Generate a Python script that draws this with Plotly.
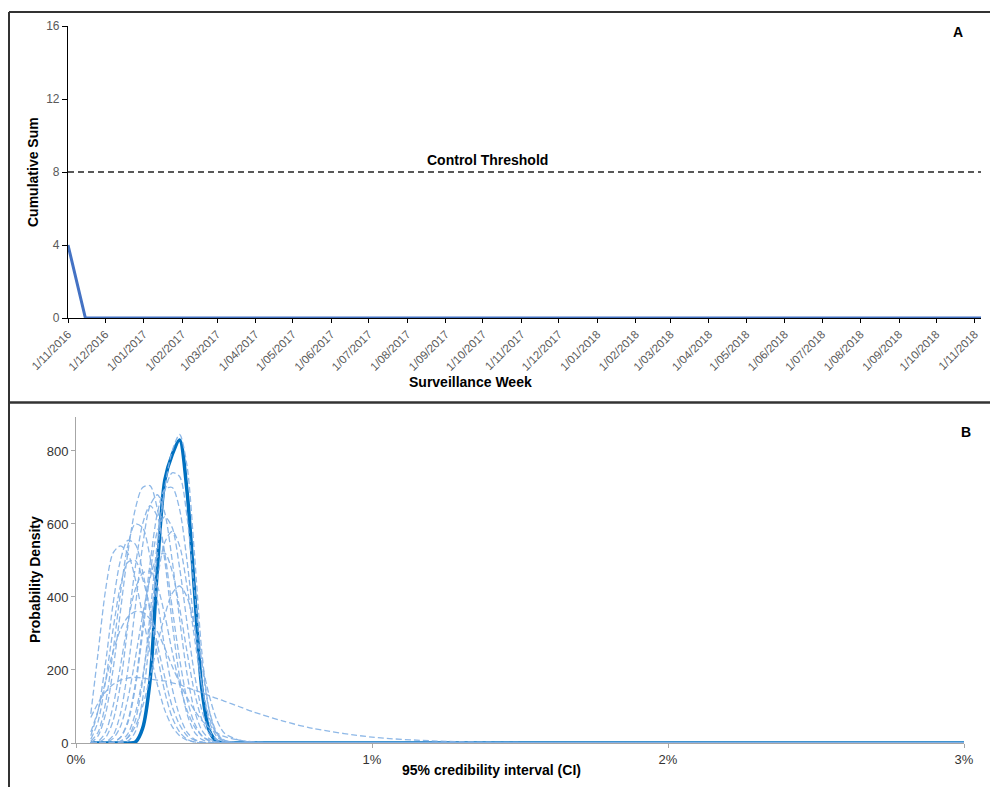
import plotly.graph_objects as go
import pandas as pd

W, H = 990, 787

# ---------------- Panel A data ----------------
week_start = "2016-11-01"
n_weeks = 106
weeks = [d.strftime("%Y-%m-%d") for d in pd.date_range(week_start, periods=n_weeks, freq="7D")]
cusum = [
    4, 2, 0, 0, 0, 0, 0, 0, 0, 0, 0, 0, 0, 0, 0, 0, 0, 0, 0, 0,
    0, 0, 0, 0, 0, 0, 0, 0, 0, 0, 0, 0, 0, 0, 0, 0, 0, 0, 0, 0,
    0, 0, 0, 0, 0, 0, 0, 0, 0, 0, 0, 0, 0, 0, 0, 0, 0, 0, 0, 0,
    0, 0, 0, 0, 0, 0, 0, 0, 0, 0, 0, 0, 0, 0, 0, 0, 0, 0, 0, 0,
    0, 0, 0, 0, 0, 0, 0, 0, 0, 0, 0, 0, 0, 0, 0, 0, 0, 0, 0, 0,
    0, 0, 0, 0, 0, 0,
]
control_threshold = 8
month_ticks = [d.strftime("%Y-%m-%d") for d in pd.date_range("2016-11-01", "2018-11-01", freq="MS")]
month_labels = [d.strftime("1/%m/%Y") for d in pd.date_range("2016-11-01", "2018-11-01", freq="MS")]

# ---------------- Panel B data ----------------
ci_pct = [0.05, 0.075, 0.1, 0.125, 0.15, 0.175, 0.2, 0.225, 0.25, 0.275, 0.3, 0.325,
          0.35, 0.375, 0.4, 0.425, 0.45, 0.475, 0.5, 0.55, 0.6, 0.7, 0.8, 1.0, 1.2, 1.4, 3.0]

current_density = [0, 0, 0, 0, 0, 0, 2, 40, 170, 480, 720, 790, 830, 690, 420, 150, 35, 5, 0,
                   0, 0, 0, 0, 0, 0, 0, 0]

previous_densities = [
    [80, 250, 420, 520, 540, 520, 450, 350, 250, 160, 90, 45, 20, 8, 3, 1, 0, 0, 0, 0, 0, 0, 0, 0, 0, 0, 0],
    [0, 20, 80, 200, 360, 520, 640, 700, 705, 640, 500, 330, 180, 80, 30, 10, 3, 0, 0, 0, 0, 0, 0, 0, 0, 0, 0],
    [0, 0, 0, 0, 0, 5, 30, 120, 300, 520, 700, 800, 845, 760, 520, 250, 90, 25, 5, 0, 0, 0, 0, 0, 0, 0, 0],
    [0, 0, 0, 0, 2, 15, 60, 170, 350, 550, 690, 740, 730, 620, 420, 220, 90, 30, 8, 0, 0, 0, 0, 0, 0, 0, 0],
    [0, 0, 0, 2, 15, 60, 160, 320, 490, 630, 695, 700, 640, 500, 320, 160, 60, 18, 5, 0, 0, 0, 0, 0, 0, 0, 0],
    [0, 0, 3, 20, 80, 200, 370, 540, 650, 680, 630, 500, 340, 190, 90, 35, 12, 3, 0, 0, 0, 0, 0, 0, 0, 0, 0],
    [0, 2, 15, 60, 160, 320, 480, 600, 650, 620, 520, 370, 230, 120, 55, 20, 6, 2, 0, 0, 0, 0, 0, 0, 0, 0, 0],
    [5, 30, 110, 250, 410, 540, 600, 590, 510, 390, 260, 150, 75, 30, 10, 3, 0, 0, 0, 0, 0, 0, 0, 0, 0, 0, 0],
    [20, 90, 220, 380, 500, 555, 545, 470, 360, 240, 140, 70, 30, 10, 3, 0, 0, 0, 0, 0, 0, 0, 0, 0, 0, 0, 0],
    [10, 60, 170, 310, 430, 495, 500, 450, 370, 270, 180, 100, 50, 20, 8, 2, 0, 0, 0, 0, 0, 0, 0, 0, 0, 0, 0],
    [0, 5, 30, 100, 210, 330, 420, 465, 470, 430, 350, 250, 160, 90, 45, 20, 8, 3, 1, 0, 0, 0, 0, 0, 0, 0, 0],
    [30, 90, 170, 250, 310, 345, 360, 358, 340, 305, 260, 210, 165, 125, 90, 62, 42, 28, 18, 8, 3, 0, 0, 0, 0, 0, 0],
    [70, 110, 140, 160, 172, 178, 180, 178, 175, 172, 170, 165, 160, 152, 145, 138, 130, 122, 115, 100, 85, 60, 40, 16, 6, 2, 0],
    [0, 0, 0, 3, 15, 55, 150, 300, 460, 580, 620, 590, 480, 330, 190, 90, 35, 10, 3, 0, 0, 0, 0, 0, 0, 0, 0],
    [0, 0, 2, 12, 45, 120, 230, 350, 450, 510, 520, 470, 370, 250, 140, 65, 25, 8, 2, 0, 0, 0, 0, 0, 0, 0, 0],
    [0, 0, 0, 0, 3, 15, 45, 100, 180, 270, 350, 410, 430, 400, 320, 220, 130, 65, 28, 8, 2, 0, 0, 0, 0, 0, 0],
    [0, 0, 0, 0, 5, 25, 80, 180, 320, 450, 550, 580, 540, 430, 290, 160, 70, 25, 8, 0, 0, 0, 0, 0, 0, 0, 0],
]
ci_frac = [v / 100 for v in ci_pct]


def px_x(p):
    return p / W


def px_y(p):
    return 1 - p / H


fig = go.Figure()

# Panel B traces: current curve underneath, previous (dashed) curves on top
fig.add_trace(go.Scatter(
    x=ci_frac, y=current_density, mode="lines",
    line=dict(color="#0070C0", width=3.5, shape="spline", smoothing=0.8),
    xaxis="x2", yaxis="y2", showlegend=False, hoverinfo="skip"))
for dens in previous_densities:
    fig.add_trace(go.Scatter(
        x=ci_frac, y=dens, mode="lines",
        line=dict(color="rgba(130,176,228,0.9)", width=1.3, dash="6px,3px",
                  shape="spline", smoothing=0.8),
        xaxis="x2", yaxis="y2", showlegend=False, hoverinfo="skip"))

# Panel A traces
fig.add_trace(go.Scatter(
    x=weeks, y=cusum, mode="lines", line=dict(color="#4472C4", width=3),
    xaxis="x", yaxis="y", showlegend=False, hoverinfo="skip"))
fig.add_trace(go.Scatter(
    x=[weeks[0], weeks[-1]], y=[control_threshold, control_threshold], mode="lines",
    line=dict(color="#222222", width=1.6, dash="6px,4px"),
    xaxis="x", yaxis="y", showlegend=False, hoverinfo="skip"))

FONT = "Liberation Sans, Arial, sans-serif"
tick_font = dict(family=FONT, size=11.5, color="#595959")
tick_font_y = dict(family=FONT, size=12, color="#595959")
tick_font_b = dict(family=FONT, size=13, color="#333333")
title_font = dict(family=FONT, size=14, color="#000000")

fig.update_layout(
    width=W, height=H, autosize=False,
    margin=dict(l=0, r=0, t=0, b=0, pad=0),
    paper_bgcolor="white", plot_bgcolor="white",
    xaxis=dict(
        domain=[px_x(68), px_x(981)],
        range=["2016-11-01", "2018-11-06"],
        type="date", automargin=False,
        tickvals=month_ticks, ticktext=month_labels, tickangle=-45,
        tickfont=tick_font,
        showline=True, linecolor="#000000", linewidth=1.2,
        ticks="outside", ticklen=4, tickcolor="#000000",
        showgrid=False, zeroline=False, anchor="y",
    ),
    yaxis=dict(
        domain=[px_y(318), px_y(26)],
        range=[0, 16], tickvals=[0, 4, 8, 12, 16], automargin=False,
        tickfont=tick_font_y,
        showline=True, linecolor="#000000", linewidth=1.2,
        ticks="outside", ticklen=5, tickcolor="#000000",
        showgrid=False, zeroline=False, anchor="x",
    ),
    xaxis2=dict(
        domain=[px_x(76), px_x(964)],
        range=[0, 0.03], tickvals=[0, 0.01, 0.02, 0.03], ticktext=["0%", "1%", "2%", "3%"],
        automargin=False,
        tickfont=tick_font_b,
        showline=True, linecolor="#A6A6A6", linewidth=1,
        ticks="outside", ticklen=4, tickcolor="#A6A6A6",
        showgrid=False, zeroline=False, anchor="y2",
    ),
    yaxis2=dict(
        domain=[px_y(743), px_y(417)],
        range=[0, 893], tickvals=[0, 200, 400, 600, 800], automargin=False,
        tickfont=tick_font_b,
        showline=True, linecolor="#A6A6A6", linewidth=1,
        ticks="outside", ticklen=4, tickcolor="#A6A6A6",
        showgrid=False, zeroline=False, anchor="x2",
    ),
    shapes=[
        dict(type="line", xref="paper", yref="paper", x0=px_x(9), x1=1, y0=px_y(12), y1=px_y(12),
             line=dict(color="#333333", width=2)),
        dict(type="line", xref="paper", yref="paper", x0=px_x(9), x1=1, y0=px_y(402.5), y1=px_y(402.5),
             line=dict(color="#333333", width=2.5)),
        dict(type="line", xref="paper", yref="paper", x0=px_x(9), x1=px_x(9), y0=px_y(12), y1=0,
             line=dict(color="#333333", width=2)),
    ],
    annotations=[
        dict(text="<b>Control Threshold</b>", xref="paper", yref="paper",
             x=px_x(487), y=px_y(160), showarrow=False, font=title_font,
             xanchor="center", yanchor="middle"),
        dict(text="<b>A</b>", xref="paper", yref="paper", x=px_x(958), y=px_y(32),
             showarrow=False, font=dict(family=FONT, size=14, color="#000"),
             xanchor="center", yanchor="middle"),
        dict(text="<b>B</b>", xref="paper", yref="paper", x=px_x(966), y=px_y(432),
             showarrow=False, font=dict(family=FONT, size=14, color="#000"),
             xanchor="center", yanchor="middle"),
        dict(text="<b>Cumulative Sum</b>", xref="paper", yref="paper", x=px_x(33), y=px_y(172),
             showarrow=False, textangle=-90, font=title_font, xanchor="center", yanchor="middle"),
        dict(text="<b>Surveillance Week</b>", xref="paper", yref="paper", x=px_x(470), y=px_y(382),
             showarrow=False, font=title_font, xanchor="center", yanchor="middle"),
        dict(text="<b>Probability Density</b>", xref="paper", yref="paper", x=px_x(35), y=px_y(580),
             showarrow=False, textangle=-90, font=title_font, xanchor="center", yanchor="middle"),
        dict(text="<b>95% credibility interval (CI)</b>", xref="paper", yref="paper", x=px_x(491), y=px_y(770),
             showarrow=False, font=title_font, xanchor="center", yanchor="middle"),
    ],
)

fig.write_html("out.html")
